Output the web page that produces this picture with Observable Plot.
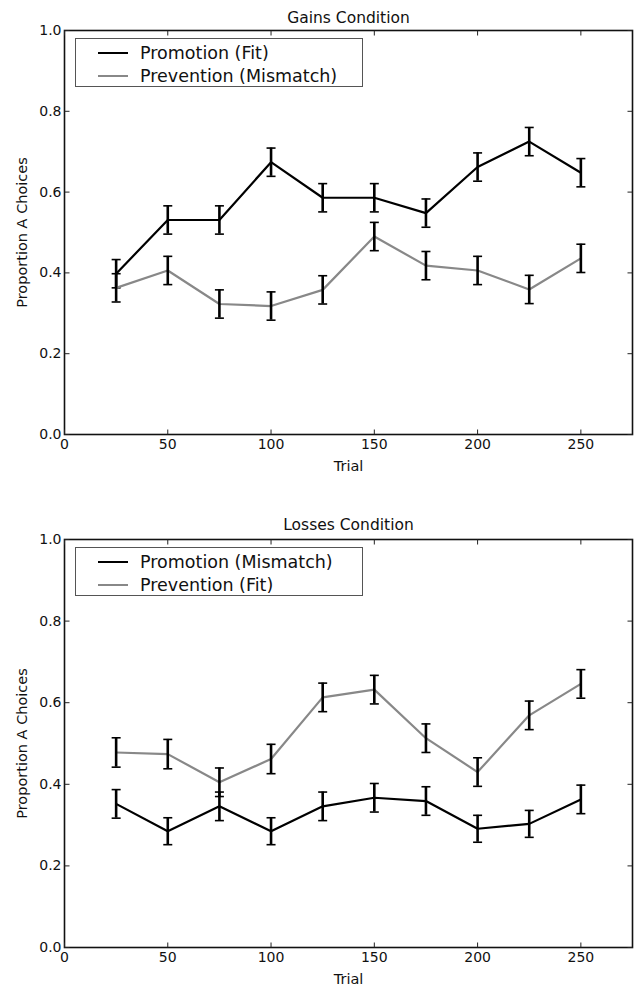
<!DOCTYPE html>
<html>
<head>
<meta charset="utf-8">
<script src="https://cdn.jsdelivr.net/npm/d3@7"></script>
<script src="https://cdn.jsdelivr.net/npm/@observablehq/plot@0.6"></script>
<style>
  html, body { margin: 0; padding: 0; background: white; }
  body { width: 639px; font-family: "DejaVu Sans", sans-serif; }
  .panel { position: relative; width: 639px; }
  .legend { position: absolute; border: 1px solid #555; background: white; box-sizing: border-box; }
  .legend .row { position: absolute; left: 0; height: 20px; display: flex; align-items: center; font-size: 17.5px; color: #111; white-space: nowrap; }
  .legend .swatch { display: inline-block; width: 30px; height: 0; border-top: 2px solid; margin-left: 22px; margin-right: 12px; }
  svg [aria-label="y-axis label"] text, svg [aria-label="x-axis label"] text { font-size: 14.5px; }
</style>
</head>
<body>
<div id="root"></div>
<script>
const trials = [25, 50, 75, 100, 125, 150, 175, 200, 225, 250];
const xTicks = [0, 50, 100, 150, 200, 250];
const yTicks = [0, 0.2, 0.4, 0.6, 0.8, 1.0];

// Gains condition
const gainsPromotion = [0.398, 0.531, 0.531, 0.674, 0.586, 0.586, 0.548, 0.662, 0.725, 0.648];
const gainsPromotionErr = [0.035, 0.035, 0.035, 0.035, 0.035, 0.035, 0.035, 0.035, 0.035, 0.035];
const gainsPrevention = [0.363, 0.406, 0.323, 0.318, 0.358, 0.490, 0.418, 0.406, 0.359, 0.436];
const gainsPreventionErr = [0.035, 0.035, 0.035, 0.035, 0.035, 0.035, 0.035, 0.035, 0.035, 0.035];

// Losses condition
const lossesPromotion = [0.352, 0.285, 0.346, 0.285, 0.346, 0.367, 0.359, 0.291, 0.303, 0.363];
const lossesPromotionErr = [0.035, 0.033, 0.035, 0.033, 0.035, 0.035, 0.035, 0.033, 0.033, 0.035];
const lossesPrevention = [0.478, 0.474, 0.405, 0.462, 0.613, 0.632, 0.513, 0.430, 0.569, 0.646];
const lossesPreventionErr = [0.036, 0.036, 0.035, 0.036, 0.035, 0.035, 0.035, 0.035, 0.035, 0.035];

const BLACK = "#000000";
const GRAY = "#888888";

const capSymbol = { draw(ctx) { ctx.moveTo(-4.5, 0); ctx.lineTo(4.5, 0); } };
const tickRight = { draw(ctx) { ctx.moveTo(0, 0); ctx.lineTo(5, 0); } };
const tickLeft = { draw(ctx) { ctx.moveTo(0, 0); ctx.lineTo(-5, 0); } };
const tickUp = { draw(ctx) { ctx.moveTo(0, 0); ctx.lineTo(0, -5); } };
const tickDown = { draw(ctx) { ctx.moveTo(0, 0); ctx.lineTo(0, 5); } };

function chart({ title, series, height, marginTop, marginBottom, titleDy, legendTop }) {
  const panel = document.createElement("div");
  panel.className = "panel";
  const marks = [
    Plot.frame({ stroke: "#111", strokeWidth: 1.6 }),
    Plot.axisX({ ticks: xTicks, tickSize: 0, tickPadding: 5, label: "Trial", labelAnchor: "center", labelArrow: "none", labelOffset: 36 }),
    Plot.axisY({ ticks: yTicks, tickSize: 0, tickPadding: 3, tickFormat: d3.format(".1f"), label: "Proportion A Choices", labelAnchor: "center", labelArrow: "none", labelOffset: 48 }),
    Plot.dot(yTicks, { y: d => d, frameAnchor: "left", symbol: tickRight, stroke: "#222", strokeWidth: 1 }),
    Plot.dot(yTicks, { y: d => d, frameAnchor: "right", symbol: tickLeft, stroke: "#222", strokeWidth: 1 }),
    Plot.dot(xTicks, { x: d => d, frameAnchor: "bottom", symbol: tickUp, stroke: "#222", strokeWidth: 1 }),
    Plot.dot(xTicks, { x: d => d, frameAnchor: "top", symbol: tickDown, stroke: "#222", strokeWidth: 1 }),
    Plot.text([title], { text: d => d, frameAnchor: "top", dy: titleDy, fontSize: 15.5, fill: "#111", lineAnchor: "middle" })
  ];
  for (const s of series) {
    const rows = trials.map((t, i) => ({ trial: t, value: s.values[i], err: s.err[i] }));
    marks.push(Plot.line(rows, { x: "trial", y: "value", stroke: s.color, strokeWidth: 2.2 }));
    marks.push(Plot.ruleX(rows, { x: "trial", y1: d => d.value - d.err, y2: d => d.value + d.err, stroke: BLACK, strokeWidth: 2.6 }));
    marks.push(Plot.dot(rows, { x: "trial", y: d => d.value + d.err, symbol: capSymbol, stroke: BLACK, strokeWidth: 1.6 }));
    marks.push(Plot.dot(rows, { x: "trial", y: d => d.value - d.err, symbol: capSymbol, stroke: BLACK, strokeWidth: 1.6 }));
  }
  const svg = Plot.plot({
    width: 639, height, marginTop, marginBottom, marginLeft: 64, marginRight: 7,
    style: { fontFamily: "DejaVu Sans, sans-serif", fontSize: "14px", background: "white", color: "#111" },
    x: { domain: [0, 275] },
    y: { domain: [0, 1] },
    marks
  });
  panel.appendChild(svg);
  const legend = document.createElement("div");
  legend.className = "legend";
  legend.style.left = "75px";
  legend.style.top = legendTop + "px";
  legend.style.width = "288px";
  legend.style.height = "49px";
  series.forEach((s, i) => {
    const row = document.createElement("div");
    row.className = "row";
    row.style.top = (4 + i * 22.5) + "px";
    const sw = document.createElement("span");
    sw.className = "swatch";
    sw.style.borderTopColor = s.color;
    row.appendChild(sw);
    row.appendChild(document.createTextNode(s.name));
    legend.appendChild(row);
  });
  panel.appendChild(legend);
  return panel;
}

const root = document.getElementById("root");
root.appendChild(chart({
  title: "Gains Condition",
  height: 493, marginTop: 30, marginBottom: 59, titleDy: -12, legendTop: 38,
  series: [
    { name: "Promotion (Fit)", values: gainsPromotion, err: gainsPromotionErr, color: BLACK },
    { name: "Prevention (Mismatch)", values: gainsPrevention, err: gainsPreventionErr, color: GRAY }
  ]
}));
root.appendChild(chart({
  title: "Losses Condition",
  height: 493, marginTop: 46, marginBottom: 39, titleDy: -14, legendTop: 54,
  series: [
    { name: "Promotion (Mismatch)", values: lossesPromotion, err: lossesPromotionErr, color: BLACK },
    { name: "Prevention (Fit)", values: lossesPrevention, err: lossesPreventionErr, color: GRAY }
  ]
}));
</script>
</body>
</html>
